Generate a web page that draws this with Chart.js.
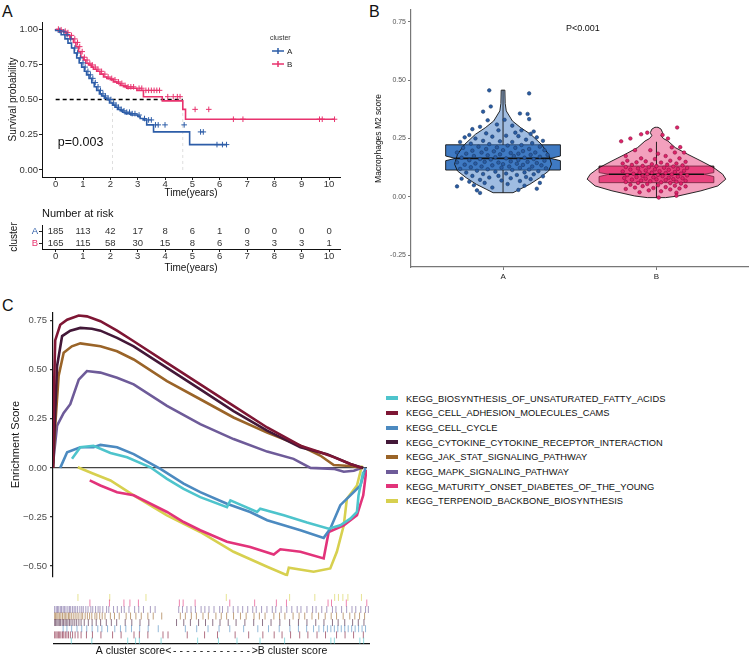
<!DOCTYPE html>
<html>
<head>
<meta charset="utf-8">
<script src="https://cdn.jsdelivr.net/npm/chart.js@4.4.1/dist/chart.umd.min.js"></script>
<style>
  body { margin: 0; background: #fff; }
  #page { position: relative; width: 753px; height: 658px; overflow: hidden; background: #fff; font-family: 'Liberation Sans', Arial, sans-serif; }
  canvas { position: absolute; }
  .tag { position: absolute; font-size: 16px; color: #111; line-height: 16px; }
  #gseaLegend { position: absolute; left: 386px; top: 391.7px; font-size: 9.3px; color: #111; }
  #gseaLegend div { height: 14.67px; line-height: 14.67px; white-space: nowrap; }
  #gseaLegend .key { display: inline-block; width: 12px; height: 4px; vertical-align: middle; margin-right: 8px; position: relative; top: -1px; }
</style>
</head>
<body>
<div id="page">
  <div class="tag" style="left:2px;top:4px">A</div>
  <div class="tag" style="left:369px;top:4px">B</div>
  <div class="tag" style="left:2px;top:298px">C</div>
  <canvas id="kmChart" width="350" height="200" style="left:0;top:0;width:350px;height:200px"></canvas>
  <canvas id="riskChart" width="350" height="75" style="left:0;top:200px;width:350px;height:75px"></canvas>
  <canvas id="violinChart" width="383" height="300" style="left:370px;top:0;width:383px;height:300px"></canvas>
  <canvas id="gseaChart" width="380" height="285" style="left:0;top:300px;width:380px;height:285px"></canvas>
  <canvas id="rugChart" width="380" height="73" style="left:0;top:585px;width:380px;height:73px"></canvas>
  <div id="gseaLegend"></div>
</div>
<script>
// ---- Painel A: sobrevida (Kaplan-Meier) ----
const groups = ['A', 'B'];
const colorA = '#2D5DA8';
const colorB = '#E8336E';

const timeA = [0, 0.1, 0.2, 0.34, 0.45, 0.58, 0.68, 0.77, 0.86, 0.95, 1.05, 1.13, 1.22, 1.32, 1.41, 1.5, 1.6, 1.68, 1.78, 1.87, 1.97, 2.08, 2.17, 2.26, 2.36, 2.45, 2.54, 2.75, 3.0, 3.09, 3.2, 3.33, 3.58, 4.9, 5.75, 6.25];
const survA = [1, 0.99, 0.98, 0.96, 0.93, 0.9, 0.865, 0.83, 0.795, 0.76, 0.73, 0.7, 0.675, 0.65, 0.62, 0.59, 0.565, 0.54, 0.525, 0.51, 0.5, 0.475, 0.46, 0.445, 0.43, 0.42, 0.41, 0.4, 0.39, 0.38, 0.365, 0.355, 0.32, 0.27, 0.18, 0.18];
const timeB = [0, 0.15, 0.3, 0.4, 0.52, 0.65, 0.74, 0.83, 0.92, 1.01, 1.1, 1.2, 1.3, 1.38, 1.5, 1.62, 1.75, 1.87, 2.0, 2.11, 2.24, 2.36, 2.48, 2.6, 2.97, 3.21, 3.9, 4.65, 4.75, 6.05, 10.2];
const survB = [1, 0.995, 0.985, 0.975, 0.955, 0.93, 0.905, 0.875, 0.84, 0.8, 0.78, 0.757, 0.745, 0.73, 0.715, 0.7, 0.68, 0.66, 0.65, 0.64, 0.625, 0.615, 0.6, 0.59, 0.58, 0.565, 0.52, 0.49, 0.43, 0.36, 0.36];
const censorA = [0.15, 0.3, 0.42, 0.55, 0.7, 0.8, 0.9, 1.0, 1.08, 1.18, 1.27, 1.36, 1.45, 1.55, 1.64, 1.73, 1.82, 1.92, 2.02, 2.12, 2.21, 2.3, 2.4, 2.5, 2.6, 2.7, 2.8, 2.9, 3.05, 3.25, 3.4, 3.5, 3.65, 3.75, 4.0, 4.7, 5.3, 5.4, 5.9, 6.1, 6.25];
const censorB = [0.1, 0.2, 0.35, 0.45, 0.58, 0.7, 0.8, 0.88, 0.97, 1.05, 1.15, 1.25, 1.34, 1.45, 1.55, 1.68, 1.8, 1.92, 2.05, 2.17, 2.3, 2.42, 2.54, 2.65, 2.75, 2.85, 3.05, 3.15, 3.3, 3.4, 3.5, 3.6, 3.7, 3.8, 4.1, 4.3, 4.45, 4.55, 5.1, 5.6, 6.5, 6.85, 9.65, 9.75, 10.2];
const medianA = 2.08;
const medianB = 4.65;
const pValueText = 'p=0.003';
const kmYTicks = [0, 0.25, 0.5, 0.75, 1];
const timeTicks = [0, 1, 2, 3, 4, 5, 6, 7, 8, 9, 10];

// Tabela de número em risco
const riskA = [185, 113, 42, 17, 8, 6, 1, 0, 0, 0, 0];
const riskB = [165, 115, 58, 30, 15, 8, 6, 3, 3, 3, 1];

// ---- Painel B: violino M2 ----
const violinLevelsA = [0.018, 0.033, 0.054, 0.082, 0.111, 0.14, 0.182, 0.225, 0.268, 0.296, 0.325, 0.368, 0.4, 0.457];
const violinWidthA = [0.065, 0.11, 0.174, 0.24, 0.297, 0.316, 0.297, 0.25, 0.18, 0.116, 0.061, 0.021, 0.014, 0.012];
const violinLevelsB = [-0.003, 0.004, 0.026, 0.047, 0.076, 0.097, 0.125, 0.154, 0.182, 0.211, 0.239, 0.25, 0.262, 0.275, 0.29, 0.298];
const violinWidthB = [0.06, 0.142, 0.29, 0.4, 0.452, 0.432, 0.374, 0.29, 0.205, 0.123, 0.075, 0.045, 0.03, 0.04, 0.03, 0.01];
// min, q1, mediana, q3, max
const boxStatsA = [0.018, 0.115, 0.165, 0.223, 0.457];
const boxStatsB = [-0.005, 0.061, 0.097, 0.132, 0.236];
const notchA = [0.155, 0.175];
const notchB = [0.087, 0.104];
const violinYTicks = [-0.25, 0, 0.25, 0.5, 0.75];

const pointsA = [
  [-0.09, 0.456], [0.17, 0.443], [-0.08, 0.387], [-0.13, 0.365], [0.11, 0.357], [0.16, 0.355], [0.17, 0.333], [0.01, 0.33], [-0.1, 0.328], [-0.04, 0.31],
  [0.06, 0.305], [-0.2, 0.29], [-0.15, 0.3], [0.2, 0.28], [0.12, 0.285], [-0.22, 0.265], [0.18, 0.27], [0.08, 0.275], [-0.03, 0.285], [-0.11, 0.272],
  [-0.25, 0.255], [-0.18, 0.25], [-0.07, 0.258], [0.02, 0.262], [0.1, 0.26], [0.22, 0.255], [0.15, 0.245], [-0.13, 0.24], [-0.28, 0.235], [0.26, 0.24],
  [-0.02, 0.238], [0.06, 0.235], [-0.21, 0.228], [0.19, 0.23], [-0.09, 0.226], [0.12, 0.222], [0.03, 0.22], [-0.16, 0.215], [0.24, 0.215], [-0.04, 0.212],
  [0.08, 0.21], [-0.26, 0.21], [0.17, 0.205], [-0.11, 0.205], [0.0, 0.2], [-0.2, 0.198], [0.27, 0.2], [0.13, 0.196], [-0.06, 0.195], [0.21, 0.19],
  [-0.3, 0.19], [-0.14, 0.19], [0.05, 0.188], [-0.24, 0.185], [0.1, 0.185], [-0.02, 0.182], [0.18, 0.18], [0.29, 0.18], [-0.1, 0.178], [-0.19, 0.175],
  [0.07, 0.175], [0.24, 0.172], [-0.05, 0.17], [0.14, 0.168], [-0.27, 0.168], [0.02, 0.165], [-0.15, 0.162], [0.2, 0.162], [-0.08, 0.16], [0.1, 0.158],
  [-0.22, 0.157], [0.27, 0.155], [0.05, 0.152], [-0.12, 0.15], [0.16, 0.15], [-0.3, 0.148], [-0.03, 0.147], [0.22, 0.145], [-0.18, 0.143], [0.09, 0.142],
  [0.0, 0.14], [-0.25, 0.138], [0.13, 0.137], [-0.07, 0.135], [0.25, 0.135], [0.19, 0.13], [-0.14, 0.13], [0.04, 0.13], [-0.21, 0.127], [-0.01, 0.125],
  [0.11, 0.124], [0.28, 0.122], [-0.28, 0.12], [-0.1, 0.118], [0.17, 0.117], [0.06, 0.115], [-0.17, 0.112], [0.23, 0.11], [-0.05, 0.108], [0.14, 0.105],
  [-0.24, 0.104], [0.02, 0.1], [-0.13, 0.098], [0.2, 0.097], [0.09, 0.094], [-0.2, 0.09], [-0.03, 0.09], [0.26, 0.088], [0.15, 0.085], [-0.09, 0.083],
  [0.05, 0.08], [-0.27, 0.078], [0.18, 0.076], [-0.15, 0.073], [-0.01, 0.07], [0.11, 0.068], [-0.22, 0.065], [0.24, 0.06], [-0.12, 0.06], [0.03, 0.055],
  [-0.19, 0.05], [0.14, 0.048], [-0.3, 0.045], [-0.07, 0.04], [0.22, 0.035], [0.1, 0.03], [-0.17, 0.028], [-0.15, 0.017]
];
const pointsB = [
  [0.135, 0.297], [-0.06, 0.275], [-0.1, 0.268], [0.04, 0.265], [-0.17, 0.25], [0.075, 0.25], [-0.23, 0.238], [0.1, 0.212], [0.155, 0.213], [-0.14, 0.2],
  [0.12, 0.19], [0.18, 0.19], [-0.04, 0.2], [0.01, 0.185], [-0.2, 0.175], [0.06, 0.175], [-0.1, 0.165], [0.15, 0.165], [-0.01, 0.162], [-0.19, 0.155],
  [-0.07, 0.152], [0.09, 0.155], [0.19, 0.15], [-0.13, 0.148], [0.03, 0.147], [-0.22, 0.143], [0.13, 0.143], [-0.03, 0.14], [0.07, 0.138], [-0.16, 0.137],
  [0.17, 0.135], [-0.09, 0.133], [0.0, 0.132], [0.11, 0.13], [-0.2, 0.128], [-0.05, 0.127], [0.05, 0.125], [0.2, 0.124], [-0.12, 0.122], [0.14, 0.12],
  [-0.01, 0.118], [-0.17, 0.117], [0.08, 0.116], [-0.07, 0.113], [0.18, 0.112], [0.02, 0.11], [-0.22, 0.109], [0.12, 0.107], [-0.11, 0.105], [-0.03, 0.104],
  [0.06, 0.102], [0.16, 0.1], [-0.15, 0.099], [-0.06, 0.097], [0.1, 0.096], [0.01, 0.094], [-0.19, 0.093], [0.2, 0.092], [-0.09, 0.09], [0.04, 0.089],
  [0.14, 0.087], [-0.13, 0.085], [-0.02, 0.084], [0.08, 0.082], [-0.21, 0.081], [0.17, 0.08], [-0.07, 0.078], [0.11, 0.076], [0.0, 0.075], [-0.16, 0.074],
  [0.06, 0.072], [-0.1, 0.07], [0.19, 0.069], [-0.04, 0.067], [0.13, 0.065], [-0.2, 0.064], [0.03, 0.062], [-0.12, 0.06], [0.09, 0.059], [0.16, 0.057],
  [-0.06, 0.055], [-0.17, 0.052], [0.01, 0.05], [0.12, 0.048], [-0.09, 0.046], [0.19, 0.045], [0.06, 0.042], [-0.14, 0.04], [-0.02, 0.038], [0.15, 0.036],
  [-0.2, 0.034], [0.09, 0.032], [-0.05, 0.028], [0.03, 0.024], [-0.11, 0.02], [0.13, 0.018], [0.015, -0.003], [0.13, 0.005]
];

// ---- Painel C: GSEA ----
const pathwayNames = [
  'KEGG_BIOSYNTHESIS_OF_UNSATURATED_FATTY_ACIDS',
  'KEGG_CELL_ADHESION_MOLECULES_CAMS',
  'KEGG_CELL_CYCLE',
  'KEGG_CYTOKINE_CYTOKINE_RECEPTOR_INTERACTION',
  'KEGG_JAK_STAT_SIGNALING_PATHWAY',
  'KEGG_MAPK_SIGNALING_PATHWAY',
  'KEGG_MATURITY_ONSET_DIABETES_OF_THE_YOUNG',
  'KEGG_TERPENOID_BACKBONE_BIOSYNTHESIS'
];
const pathwayColors = ['#4EC4CC', '#7E1634', '#4C8AC0', '#431838', '#9A6428', '#6E5B99', '#E2337A', '#D7D04F'];

const rankBiosynth = [6.05, 8.7, 12.9, 18.3, 23.6, 31.0, 36.3, 41.6, 46.9, 55.4, 56.5, 65.0, 66.0, 73.5, 80.9, 87.8, 91.5, 94.7, 96.8, 97.3, 98.8];
const esBiosynth = [0.046, 0.105, 0.113, 0.076, 0.054, 0.003, -0.056, -0.107, -0.149, -0.2, -0.166, -0.225, -0.208, -0.242, -0.279, -0.31, -0.293, -0.259, -0.225, -0.14, -0.02];
const rankAdhesion = [0, 0.4, 0.7, 2.3, 4.5, 8.2, 10.8, 15.1, 20.4, 25.7, 36.3, 46.9, 57.5, 68.2, 78.8, 85.1, 89.4, 94.7, 98.4];
const esAdhesion = [0, 0.45, 0.65, 0.73, 0.756, 0.777, 0.773, 0.748, 0.7, 0.646, 0.536, 0.426, 0.316, 0.206, 0.113, 0.08, 0.055, 0.02, 0];
const rankCellCycle = [2.3, 4.5, 8.7, 12.9, 15.1, 20.4, 25.7, 34.2, 41.6, 46.9, 55.4, 62.8, 68.2, 73.5, 78.8, 86.2, 88.3, 91.5, 94.7, 97.9, 99.5];
const esCellCycle = [0, 0.08, 0.105, 0.105, 0.117, 0.105, 0.07, -0.005, -0.08, -0.124, -0.183, -0.225, -0.267, -0.293, -0.318, -0.357, -0.31, -0.19, -0.14, -0.09, 0];
const rankCytokine = [0, 1.3, 2.9, 5.5, 8.7, 12.4, 15.1, 20.4, 25.7, 36.3, 46.9, 57.5, 68.2, 78.8, 87.3, 94.7, 98.8];
const esCytokine = [0, 0.52, 0.672, 0.7, 0.714, 0.71, 0.7, 0.663, 0.62, 0.51, 0.4, 0.29, 0.19, 0.105, 0.07, 0.02, 0];
const rankJak = [0, 0.7, 1.8, 3.4, 6.0, 8.7, 15.1, 20.4, 25.7, 36.3, 46.9, 57.5, 68.2, 78.8, 85.1, 89.4, 94.7, 98.8];
const esJak = [0, 0.215, 0.47, 0.587, 0.62, 0.635, 0.62, 0.595, 0.553, 0.443, 0.35, 0.257, 0.18, 0.113, 0.063, 0.015, 0.01, 0];
const rankMapk = [0, 1.3, 3.4, 5.5, 8.2, 10.8, 15.1, 20.4, 25.7, 36.3, 46.9, 57.5, 68.2, 76.6, 82.0, 89.4, 92.6, 95.8, 98.4];
const esMapk = [0.02, 0.215, 0.28, 0.325, 0.45, 0.494, 0.486, 0.46, 0.426, 0.316, 0.223, 0.147, 0.083, 0.046, 0.0, -0.005, -0.02, -0.015, 0];
const rankMaturity = [11.7, 15.1, 20.4, 25.7, 36.3, 41.6, 46.9, 55.4, 62.8, 70.3, 72.4, 78.8, 86.2, 87.8, 92.6, 96.8, 98.8, 99.8];
const esMaturity = [-0.064, -0.09, -0.124, -0.14, -0.225, -0.276, -0.318, -0.377, -0.403, -0.442, -0.415, -0.428, -0.462, -0.327, -0.293, -0.242, -0.14, -0.01];
const rankTerpenoid = [7.9, 12.9, 18.3, 25.7, 36.3, 46.9, 57.5, 68.2, 74.5, 75.1, 83.0, 88.3, 90.4, 92.6, 93.6, 96.8, 98.4];
const esTerpenoid = [0.003, -0.03, -0.064, -0.14, -0.242, -0.327, -0.428, -0.504, -0.547, -0.509, -0.53, -0.513, -0.428, -0.293, -0.157, -0.09, 0.012];
const gseaYTicks = [-0.5, -0.25, 0, 0.25, 0.5, 0.75];

// Posições dos genes de cada via no ranking (rug)
const rugBiosynth = [5.5, 12.0, 23.4, 25.9, 27.1, 34.0, 45.6, 52.2, 58.1, 65.4, 73.2, 87.9, 89.0, 97.1, 98.3];
const rugAdhesion = [0.2, 0.6, 1.0, 1.4, 1.8, 2.2, 2.7, 3.1, 3.6, 4.1, 4.6, 5.2, 5.9, 6.7, 7.6, 8.6, 10.3, 12.2, 14.9, 18.6, 21.3, 25.4, 27.1, 29.8, 34.6, 36.2, 42.3, 47.8, 51.9, 57.5, 61.8, 66.3, 69.9, 72.4, 75.1, 78.0, 80.6, 83.5, 86.2, 89.7, 92.4, 95.1, 98.2];
const rugCellCycle = [2.9, 4.1, 5.6, 7.3, 8.8, 10.4, 12.1, 13.9, 15.2, 17.0, 19.3, 21.1, 22.8, 24.6, 27.2, 29.9, 33.1, 41.7, 45.3, 48.9, 52.4, 55.8, 60.2, 64.7, 68.1, 71.5, 74.9, 77.6, 80.2, 82.4, 84.1, 85.6, 86.8, 87.9, 89.0, 90.1, 91.2, 92.3, 93.4, 94.5, 95.6, 96.7, 97.8, 98.9];
const rugCytokine = [0.1, 0.5, 0.9, 1.3, 1.7, 2.1, 2.6, 3.0, 3.5, 3.9, 4.4, 4.9, 5.4, 6.0, 6.6, 7.2, 7.9, 8.6, 9.6, 10.9, 12.1, 13.4, 14.8, 16.6, 18.2, 19.9, 22.6, 24.7, 27.3, 30.1, 38.9, 41.2, 43.3, 45.9, 48.1, 50.4, 52.7, 55.3, 57.8, 60.6, 63.4, 66.2, 68.9, 71.7, 74.8, 77.6, 80.3, 83.1, 85.7, 88.4, 90.2, 92.3, 94.8, 96.6, 98.4];
const rugJak = [0.1, 0.5, 0.9, 1.3, 1.8, 2.2, 2.7, 3.2, 3.6, 4.1, 4.6, 5.0, 5.5, 6.1, 6.7, 7.3, 7.9, 8.6, 9.1, 9.9, 10.6, 11.3, 12.0, 13.0, 13.6, 14.5, 15.3, 16.2, 17.9, 19.2, 20.7, 22.9, 24.3, 26.0, 27.7, 29.8, 31.5, 34.2, 40.1, 41.7, 43.6, 45.2, 47.3, 49.0, 51.4, 53.1, 54.8, 57.0, 59.2, 61.0, 63.5, 65.2, 67.0, 69.8, 71.6, 73.3, 75.9, 77.8, 79.6, 81.9, 84.0, 86.1, 88.0, 89.7, 91.8, 93.9, 95.5, 97.0, 98.6];
const rugMapk = [0.2, 0.7, 1.1, 1.5, 2.0, 2.4, 2.9, 3.3, 3.8, 4.4, 4.9, 5.3, 5.9, 6.4, 6.9, 7.5, 8.2, 8.8, 9.3, 10.1, 10.8, 11.7, 12.3, 13.2, 14.0, 14.6, 15.5, 16.7, 17.4, 18.9, 20.1, 21.4, 22.3, 23.8, 25.6, 26.9, 28.4, 30.6, 32.1, 39.6, 40.8, 42.2, 43.5, 44.9, 46.7, 47.9, 49.2, 50.8, 52.6, 53.5, 55.2, 56.9, 58.4, 59.9, 61.5, 63.1, 64.2, 65.9, 67.6, 69.3, 70.4, 72.1, 73.9, 75.5, 77.2, 78.4, 80.3, 82.1, 83.2, 85.0, 86.6, 88.4, 89.5, 91.3, 92.9, 94.6, 95.8, 97.4, 98.9, 99.8];
const rugMaturity = [11.4, 17.6, 22.2, 24.1, 26.8, 39.8, 41.0, 44.8, 55.8, 63.7, 70.6, 73.8, 87.0, 88.1, 92.8, 99.3];
const rugTerpenoid = [7.6, 17.7, 29.2, 54.7, 74.8, 82.8, 89.1, 90.3, 91.7, 93.3, 97.6];
const rugTitle = ['A cluster score<', '------------', '>B cluster score'];

const fontFamily = "'Liberation Sans', Arial, sans-serif";
Chart.defaults.font.family = fontFamily;
Chart.defaults.animation = false;
Chart.defaults.responsive = false;
Chart.defaults.devicePixelRatio = 1;
Chart.defaults.plugins.legend.display = false;
Chart.defaults.plugins.tooltip.enabled = false;

// Junta dois arrays em pontos {x, y}
function toPoints(xs, ys) {
    return xs.map((x, i) => ({ x: x, y: ys[i] }));
}

// Valor da curva em degrau num tempo qualquer
function survAt(times, surv, t) {
    let s = surv[0];
    for (let i = 0; i < times.length; i++) {
        if (times[i] <= t) s = surv[i];
    }
    return s;
}

function fixedTicks(values) {
    return function (scale) {
        scale.ticks = values.map(v => ({ value: v }));
    };
}

function hexAlpha(hex, a) {
    const n = parseInt(hex.slice(1), 16);
    return `rgba(${(n >> 16) & 255}, ${(n >> 8) & 255}, ${n & 255}, ${a})`;
}

// ---------- Gráfico A ----------
const kmExtras = {
    id: 'kmExtras',
    afterDatasetsDraw(chart) {
        const { ctx, scales: { x, y } } = chart;
        ctx.save();
        ctx.fillStyle = '#111';
        ctx.font = `12.5px ${fontFamily}`;
        ctx.textBaseline = 'middle';
        ctx.fillText(pValueText, x.getPixelForValue(0.08), y.getPixelForValue(0.195));

        // legenda
        ctx.font = `7px ${fontFamily}`;
        ctx.fillStyle = '#333';
        ctx.fillText('cluster', 270, 38.5);
        [[colorA, 51], [colorB, 64]].forEach((item, i) => {
            ctx.strokeStyle = item[0];
            ctx.lineWidth = 1.5;
            ctx.beginPath();
            ctx.moveTo(272, item[1]);
            ctx.lineTo(284, item[1]);
            ctx.moveTo(278, item[1] - 3);
            ctx.lineTo(278, item[1] + 3);
            ctx.stroke();
            ctx.font = `8px ${fontFamily}`;
            ctx.fillStyle = '#222';
            ctx.fillText(groups[i], 287, item[1] + 0.5);
        });
        ctx.restore();
    }
};

new Chart(document.getElementById('kmChart'), {
    type: 'scatter',
    data: {
        datasets: [
            {
                data: censorA.map(t => ({ x: t, y: survAt(timeA, survA, t) })),
                pointStyle: 'cross', pointRadius: 2.8, pointBorderWidth: 1, borderColor: colorA, showLine: false
            },
            {
                data: censorB.map(t => ({ x: t, y: survAt(timeB, survB, t) })),
                pointStyle: 'cross', pointRadius: 2.8, pointBorderWidth: 1, borderColor: colorB, showLine: false
            },
            { data: toPoints(timeA, survA), showLine: true, stepped: 'after', borderColor: colorA, borderWidth: 1.6, pointRadius: 0 },
            { data: toPoints(timeB, survB), showLine: true, stepped: 'after', borderColor: colorB, borderWidth: 1.6, pointRadius: 0 },
            {
                data: [{ x: 0, y: 0.5 }, { x: medianB, y: 0.5 }],
                showLine: true, borderColor: '#000', borderWidth: 1.6, borderDash: [4, 3], pointRadius: 0
            },
            {
                data: [{ x: medianA, y: 0 }, { x: medianA, y: 0.5 }],
                showLine: true, borderColor: '#d6d6d6', borderWidth: 0.8, borderDash: [3, 3], pointRadius: 0
            },
            {
                data: [{ x: medianB, y: 0 }, { x: medianB, y: 0.5 }],
                showLine: true, borderColor: '#d6d6d6', borderWidth: 0.8, borderDash: [3, 3], pointRadius: 0
            }
        ]
    },
    options: {
        layout: { padding: { top: 22, right: 10, left: 0, bottom: 0 } },
        scales: {
            x: {
                type: 'linear', min: -0.5, max: 10.4,
                afterBuildTicks: fixedTicks(timeTicks),
                afterFit: s => { s.height = 23; },
                ticks: { font: { size: 9.5 }, color: '#333', padding: -1 },
                grid: { drawOnChartArea: false, tickLength: 3, color: '#222' },
                border: { color: '#111', width: 1 },
                title: { display: true, text: 'Time(years)', font: { size: 10 }, color: '#111', padding: { top: 0, bottom: 1 } }
            },
            y: {
                type: 'linear', min: -0.05, max: 1.05,
                afterBuildTicks: fixedTicks(kmYTicks),
                afterFit: s => { s.width = 42; },
                ticks: { callback: v => v.toFixed(2), font: { size: 9.5 }, color: '#333', padding: 1 },
                grid: { drawOnChartArea: false, tickLength: 3, color: '#222' },
                border: { color: '#111', width: 1 },
                title: { display: true, text: 'Survival probability', font: { size: 10 }, color: '#111', padding: { top: 7, bottom: 0 } }
            }
        }
    },
    plugins: [kmExtras]
});

// ---------- Tabela de risco ----------
const riskTable = {
    id: 'riskTable',
    afterDatasetsDraw(chart) {
        const { ctx, chartArea, scales: { x, y } } = chart;
        ctx.save();
        ctx.fillStyle = '#111';
        ctx.font = `11px ${fontFamily}`;
        ctx.textBaseline = 'middle';
        ctx.textAlign = 'left';
        ctx.fillText('Number at risk', chartArea.left, chartArea.top - 11);
        ctx.font = `9.5px ${fontFamily}`;
        ctx.fillStyle = '#333';
        ctx.textAlign = 'center';
        [riskA, riskB].forEach((row, i) => {
            row.forEach((n, j) => {
                ctx.fillText(String(n), x.getPixelForValue(timeTicks[j]), y.getPixelForValue(i));
            });
        });
        ctx.restore();
    }
};

new Chart(document.getElementById('riskChart'), {
    type: 'scatter',
    data: { datasets: [{ data: [] }] },
    options: {
        layout: { padding: { top: 25, right: 10, left: 0, bottom: 0 } },
        scales: {
            x: {
                type: 'linear', min: -0.5, max: 10.4,
                afterBuildTicks: fixedTicks(timeTicks),
                afterFit: s => { s.height = 26; },
                ticks: { font: { size: 9.5 }, color: '#333', padding: -1 },
                grid: { drawOnChartArea: false, tickLength: 3, color: '#222' },
                border: { color: '#111', width: 1 },
                title: { display: true, text: 'Time(years)', font: { size: 10 }, color: '#111', padding: { top: 0, bottom: 1 } }
            },
            y: {
                type: 'category', labels: groups, offset: true,
                afterFit: s => { s.width = 42; },
                ticks: { autoSkip: false, font: { size: 9.5 }, color: c => (c.index === 0 ? colorA : colorB), padding: 1 },
                grid: { drawOnChartArea: false, tickLength: 3, color: '#222', offset: false },
                border: { color: '#111', width: 1 },
                title: { display: true, text: 'cluster', font: { size: 10 }, color: '#111', padding: { top: 8, bottom: 0 } }
            }
        }
    },
    plugins: [riskTable]
});

// ---------- Gráfico B ----------
function violinPath(ctx, x, y, center, levels, widths) {
    ctx.beginPath();
    for (let i = 0; i < levels.length; i++) {
        const px = x.getPixelForValue(center + widths[i]);
        const py = y.getPixelForValue(levels[i]);
        if (i === 0) ctx.moveTo(x.getPixelForValue(center), py);
        ctx.lineTo(px, py);
    }
    const topY = y.getPixelForValue(levels[levels.length - 1]);
    ctx.lineTo(x.getPixelForValue(center), topY);
    for (let i = levels.length - 1; i >= 0; i--) {
        ctx.lineTo(x.getPixelForValue(center - widths[i]), y.getPixelForValue(levels[i]));
    }
    ctx.closePath();
}

function notchedBox(ctx, x, y, center, stats, notch) {
    const w = 0.374;
    const nw = 0.31;
    const X = v => x.getPixelForValue(center + v);
    ctx.beginPath();
    ctx.moveTo(X(-w), y.getPixelForValue(stats[3]));
    ctx.lineTo(X(w), y.getPixelForValue(stats[3]));
    ctx.lineTo(X(w), y.getPixelForValue(notch[1]));
    ctx.lineTo(X(nw), y.getPixelForValue(stats[2]));
    ctx.lineTo(X(w), y.getPixelForValue(notch[0]));
    ctx.lineTo(X(w), y.getPixelForValue(stats[1]));
    ctx.lineTo(X(-w), y.getPixelForValue(stats[1]));
    ctx.lineTo(X(-w), y.getPixelForValue(notch[0]));
    ctx.lineTo(X(-nw), y.getPixelForValue(stats[2]));
    ctx.lineTo(X(-w), y.getPixelForValue(notch[1]));
    ctx.closePath();
}

const violinDraw = {
    id: 'violinDraw',
    beforeDatasetsDraw(chart) {
        const { ctx, scales: { x, y } } = chart;
        const sets = [
            { levels: violinLevelsA, widths: violinWidthA, stats: boxStatsA, notch: notchA, color: '#3F7AC3' },
            { levels: violinLevelsB, widths: violinWidthB, stats: boxStatsB, notch: notchB, color: '#E8417C' }
        ];
        ctx.save();
        sets.forEach((s, i) => {
            const cx = x.getPixelForValue(i);
            // caixa
            notchedBox(ctx, x, y, i, s.stats, s.notch);
            ctx.fillStyle = s.color;
            ctx.fill();
            ctx.lineWidth = 0.9;
            ctx.strokeStyle = '#111';
            ctx.stroke();
            // violino por cima, semitransparente
            violinPath(ctx, x, y, i, s.levels, s.widths);
            ctx.fillStyle = hexAlpha(s.color, 0.5);
            ctx.fill();
            ctx.lineWidth = 0.9;
            ctx.strokeStyle = '#111';
            ctx.stroke();
            // bigodes
            ctx.beginPath();
            ctx.moveTo(cx, y.getPixelForValue(s.stats[4]));
            ctx.lineTo(cx, y.getPixelForValue(s.stats[3]));
            ctx.moveTo(cx, y.getPixelForValue(s.stats[1]));
            ctx.lineTo(cx, y.getPixelForValue(s.stats[0]));
            ctx.lineWidth = 0.9;
            ctx.stroke();
            // mediana
            ctx.beginPath();
            ctx.moveTo(x.getPixelForValue(i - 0.31), y.getPixelForValue(s.stats[2]));
            ctx.lineTo(x.getPixelForValue(i + 0.31), y.getPixelForValue(s.stats[2]));
            ctx.lineWidth = 1.6;
            ctx.stroke();
        });
        ctx.restore();
    },
    afterDatasetsDraw(chart) {
        const { ctx, scales: { x, y } } = chart;
        ctx.save();
        ctx.fillStyle = '#111';
        ctx.font = `9px ${fontFamily}`;
        ctx.textAlign = 'center';
        ctx.textBaseline = 'middle';
        ctx.fillText('P<0.001', x.getPixelForValue(0.52), y.getPixelForValue(0.72));
        ctx.restore();
    }
};

new Chart(document.getElementById('violinChart'), {
    type: 'scatter',
    data: {
        datasets: [
            {
                data: pointsA.map(p => ({ x: 0 + p[0], y: p[1] })),
                pointRadius: 1.8, pointBackgroundColor: '#2A5CA3', pointBorderColor: '#17355f', pointBorderWidth: 0.5
            },
            {
                data: pointsB.map(p => ({ x: 1 + p[0], y: p[1] })),
                pointRadius: 1.8, pointBackgroundColor: '#E0236A', pointBorderColor: '#7e0c38', pointBorderWidth: 0.5
            }
        ]
    },
    options: {
        layout: { padding: { top: 10, right: 3, left: 0, bottom: 0 } },
        scales: {
            x: {
                type: 'linear', min: -0.6, max: 1.6,
                afterBuildTicks: fixedTicks([0, 1]),
                afterFit: s => { s.height = 33; },
                ticks: { callback: v => groups[v], font: { size: 8 }, color: '#222', padding: 2 },
                grid: { drawOnChartArea: false, tickLength: 3, color: '#777' },
                border: { color: '#777', width: 1.2 }
            },
            y: {
                type: 'linear', min: -0.3, max: 0.8,
                afterBuildTicks: fixedTicks(violinYTicks),
                afterFit: s => { s.width = 41; },
                ticks: { callback: v => v.toFixed(2), font: { size: 7 }, color: '#555', padding: 2 },
                grid: { drawOnChartArea: false, tickLength: 3, color: '#777' },
                border: { color: '#777', width: 1.2 },
                title: { display: true, text: 'Macrophages M2 score', font: { size: 8.5 }, color: '#111', padding: { top: 4, bottom: 0 } }
            }
        }
    },
    plugins: [violinDraw]
});

// ---------- Gráfico C ----------
const gseaRanks = [rankBiosynth, rankAdhesion, rankCellCycle, rankCytokine, rankJak, rankMapk, rankMaturity, rankTerpenoid];
const gseaScores = [esBiosynth, esAdhesion, esCellCycle, esCytokine, esJak, esMapk, esMaturity, esTerpenoid];

new Chart(document.getElementById('gseaChart'), {
    type: 'scatter',
    data: {
        datasets: pathwayNames.map((name, i) => ({
            label: name,
            data: toPoints(gseaRanks[i], gseaScores[i]),
            showLine: true,
            borderColor: pathwayColors[i],
            borderWidth: 2.6,
            pointRadius: 0,
            tension: 0
        }))
    },
    options: {
        layout: { padding: { top: 13, right: 13, left: 0, bottom: 7 } },
        scales: {
            x: { type: 'linear', min: 0, max: 100, display: false },
            y: {
                type: 'linear', min: -0.553, max: 0.79,
                afterBuildTicks: fixedTicks(gseaYTicks),
                afterFit: s => { s.width = 53; },
                ticks: { callback: v => v.toFixed(2).replace('-', '\u2212'), font: { size: 9.5 }, color: '#4d4d4d', padding: 3 },
                grid: {
                    drawOnChartArea: true, tickLength: 3,
                    color: c => (c.tick && c.tick.value === 0 ? '#444' : 'rgba(0,0,0,0)'),
                    tickColor: '#333',
                    lineWidth: 1.2
                },
                border: { color: '#111', width: 1.2 },
                title: { display: true, text: 'Enrichment Score', font: { size: 11 }, color: '#111', padding: { top: 9, bottom: 0 } }
            }
        }
    }
});

// Rug com as posições dos genes
const rugLists = [rugBiosynth, rugAdhesion, rugCellCycle, rugCytokine, rugJak, rugMapk, rugMaturity, rugTerpenoid];
const rugRows = [0.45, 1.4, 2.35, 3.3, 4.3, 5.3, 6.3, 7.15];

// Título do eixo com traços mais espaçados, como no original
const rugAxisTitle = {
    id: 'rugAxisTitle',
    afterDraw(chart) {
        const { ctx, chartArea } = chart;
        ctx.save();
        ctx.font = `10.5px ${fontFamily}`;
        ctx.fillStyle = '#111';
        ctx.textBaseline = 'middle';
        ctx.textAlign = 'left';
        const w0 = ctx.measureText(rugTitle[0]).width;
        const w2 = ctx.measureText(rugTitle[2]).width;
        ctx.letterSpacing = '3.2px';
        const w1 = ctx.measureText(rugTitle[1]).width;
        let xPos = (chartArea.left + chartArea.right) / 2 - (w0 + w1 + w2) / 2;
        const yPos = chartArea.bottom + 7.5;
        ctx.letterSpacing = '0px';
        ctx.fillText(rugTitle[0], xPos, yPos);
        xPos += w0;
        ctx.letterSpacing = '3.2px';
        ctx.fillText(rugTitle[1], xPos + 1.6, yPos);
        xPos += w1;
        ctx.letterSpacing = '0px';
        ctx.fillText(rugTitle[2], xPos, yPos);
        ctx.restore();
    }
};

new Chart(document.getElementById('rugChart'), {
    type: 'scatter',
    data: {
        datasets: rugLists.map((list, i) => ({
            data: list.map(v => ({ x: v, y: rugRows[i] })),
            pointStyle: 'line',
            pointRotation: 90,
            pointRadius: 3.5,
            pointBorderWidth: 1,
            pointBorderColor: hexAlpha(pathwayColors[i], 0.6),
            pointBackgroundColor: hexAlpha(pathwayColors[i], 0.6)
        }))
    },
    options: {
        layout: { padding: { top: 0, right: 11, left: 54, bottom: 0 } },
        scales: {
            x: {
                type: 'linear', min: 0, max: 100,
                afterFit: s => { s.height = 14; },
                ticks: { display: false },
                grid: { display: false },
                border: { display: true, color: '#111', width: 1.2 }
            },
            y: { type: 'linear', min: 0, max: 8.3, display: false }
        }
    },
    plugins: [rugAxisTitle]
});

// Legenda do painel C
const legendBox = document.getElementById('gseaLegend');
pathwayNames.forEach((name, i) => {
    const row = document.createElement('div');
    row.innerHTML = `<span class="key" style="background:${pathwayColors[i]}"></span>${name}`;
    legendBox.appendChild(row);
});
</script>
</body>
</html>
